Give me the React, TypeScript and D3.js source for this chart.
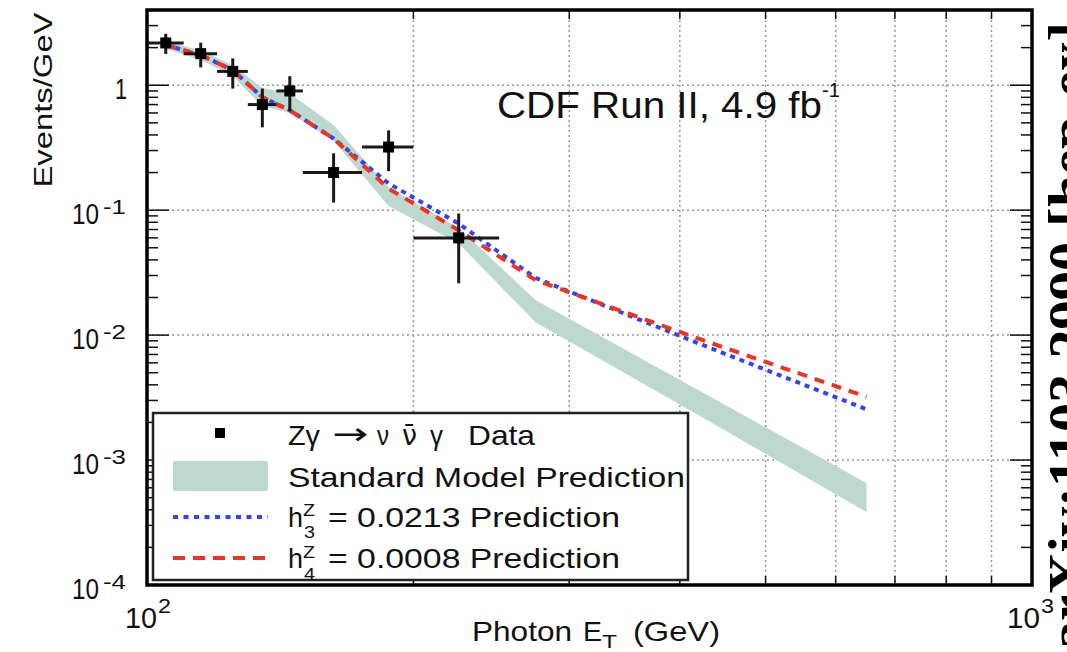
import React from 'react';
import * as d3 from 'd3';

// measured Z gamma -> nu nubar gamma events, per photon ET bin
const binLow = [100, 110, 120, 130, 140, 150, 175, 200];
const binHigh = [110, 120, 130, 140, 150, 175, 200, 250];
const binCenter = [105, 115, 125, 135, 145, 162.5, 187.5, 225];
const eventsPerGeV = [2.18, 1.79, 1.29, 0.7, 0.9, 0.2, 0.32, 0.06];
const eventsErr = [0.4, 0.4, 0.35, 0.24, 0.28, 0.085, 0.115, 0.034];

// predictions (band + two anomalous coupling curves)
const predEt = [105, 115, 125, 135, 145, 162.5, 187.5, 225, 275, 425, 650];
const smLow = [1.95, 1.6, 1.18, 0.68, 0.6, 0.36, 0.108, 0.054, 0.0126, 0.00218, 0.000384];
const smHigh = [2.25, 1.9, 1.45, 0.95, 0.86, 0.48, 0.152, 0.072, 0.019, 0.00345, 0.000655];
const h3Pred = [2.1, 1.74, 1.32, 0.8, 0.63, 0.374, 0.164, 0.078, 0.0286, 0.0083, 0.00255];
const h4Pred = [2.1, 1.74, 1.32, 0.8, 0.63, 0.374, 0.149, 0.069, 0.0275, 0.0091, 0.00321];

// axes
const gridEt = [200, 300, 400, 500, 600, 700, 800, 900];
const yDecades = [1e-4, 1e-3, 1e-2, 1e-1, 1];
const yTickExp = ['-4', '-3', '-2', '-1', ''];

const W = 1067;
const H = 652;
const L = 147, R = 1032, TOP = 10, BOT = 585;

const BAND = '#bcd8cf';
const BLUE = '#3344ee';
const RED = '#ee3322';
const INK = '#111';

const x = d3.scaleLog().domain([100, 1000]).range([L, R]);
const y = d3.scaleLog().domain([1e-4, 4]).range([BOT, TOP]);

// minor ticks 2..9 in every decade that fits
const minorY: number[] = [];
yDecades.forEach(d => {
  for (let k = 2; k <= 9; k++) if (k * d < 4) minorY.push(k * d);
});

const T = ({ x, y, size, len, anchor = 'start', children, ...rest }: any) => (
  <text x={x} y={y} fontSize={size} textAnchor={anchor}
    textLength={len} lengthAdjust="spacingAndGlyphs" fill={INK} {...rest}>
    {children}
  </text>
);

export default function App() {
  const band = d3.area<number>()
    .x(d => x(d))
    .y0((_, i) => y(smLow[i]))
    .y1((_, i) => y(smHigh[i]));

  const curve = (vals: number[]) => d3.line<number>()
    .x(d => x(d))
    .y((_, i) => y(vals[i]))(predEt) || '';

  return (
    <svg width={W} height={H}
      style={{ position: 'absolute', left: 0, top: 0, display: 'block', background: '#fff' }}
      fontFamily="'Liberation Sans', Arial, Helvetica, sans-serif">
      {/* grid */}
      <g stroke="#999" strokeWidth={1.5} strokeDasharray="2 3">
        {gridEt.map(v => <line key={v} x1={x(v)} x2={x(v)} y1={TOP} y2={BOT} />)}
        {yDecades.slice(1).map(v => <line key={v} x1={L} x2={R} y1={y(v)} y2={y(v)} />)}
      </g>

      {/* SM band */}
      <path d={band(predEt) || ''} fill={BAND} />

      {/* h3, h4 predictions */}
      <path d={curve(h3Pred)} fill="none" stroke={BLUE} strokeWidth={4} strokeDasharray="5 5" />
      <path d={curve(h4Pred)} fill="none" stroke={RED} strokeWidth={4} strokeDasharray="10 8" />

      {/* data */}
      <g stroke="#1a1a1a" strokeWidth={3}>
        {binCenter.map((c, i) => (
          <g key={c}>
            <line x1={x(binLow[i])} x2={x(binHigh[i])} y1={y(eventsPerGeV[i])} y2={y(eventsPerGeV[i])} />
            <line x1={x(c)} x2={x(c)} y1={y(eventsPerGeV[i] - eventsErr[i])} y2={y(eventsPerGeV[i] + eventsErr[i])} />
          </g>
        ))}
      </g>
      {binCenter.map((c, i) => (
        <rect key={c} x={x(c) - 5.5} y={y(eventsPerGeV[i]) - 5.5} width={11} height={11} fill="#000" />
      ))}

      {/* ticks */}
      <g stroke={INK} strokeWidth={1.5}>
        {gridEt.map(v => (
          <g key={v}>
            <line x1={x(v)} x2={x(v)} y1={BOT} y2={BOT - 9} />
            <line x1={x(v)} x2={x(v)} y1={TOP} y2={TOP + 9} />
          </g>
        ))}
        {yDecades.map(v => (
          <g key={v}>
            <line x1={L} x2={L + 22} y1={y(v)} y2={y(v)} />
            <line x1={R} x2={R - 22} y1={y(v)} y2={y(v)} />
          </g>
        ))}
        {minorY.map(v => (
          <g key={v}>
            <line x1={L} x2={L + 11} y1={y(v)} y2={y(v)} />
            <line x1={R} x2={R - 11} y1={y(v)} y2={y(v)} />
          </g>
        ))}
      </g>

      {/* frame */}
      <rect x={L} y={TOP} width={R - L} height={BOT - TOP} fill="none" stroke="#000" strokeWidth={3.5} />

      {/* y tick labels */}
      {yDecades.map((v, i) => yTickExp[i] === '' ? (
        <T key={v} x={127} y={y(v) + 14} size={29} len={12} anchor="end">1</T>
      ) : (
        <g key={v}>
          <T x={99} y={y(v) + 14} size={29} len={27} anchor="end">10</T>
          <T x={103} y={y(v) + 4} size={20} len={23}>{yTickExp[i]}</T>
        </g>
      ))}

      {/* x tick labels */}
      <T x={x(100) - 22} y={628} size={29} len={32}>10</T>
      <T x={x(100) + 11} y={613} size={20} len={13}>2</T>
      <T x={x(1000) - 25} y={628} size={29} len={33}>10</T>
      <T x={x(1000) + 9} y={613} size={20} len={13}>3</T>

      {/* axis titles */}
      <T x={0} y={0} size={26} len={175} anchor="middle" transform="translate(52,100) rotate(-90)">Events/GeV</T>
      <T x={472} y={641} size={28} len={100}>Photon</T>
      <T x={583} y={641} size={28} len={19}>E</T>
      <T x={602} y={648} size={18} len={15}>T</T>
      <T x={633} y={641} size={28} len={87}>(GeV)</T>

      {/* experiment label */}
      <T x={497} y={118} size={36} len={325}>CDF Run II, 4.9 fb</T>
      <T x={822} y={97} size={20} len={18}>-1</T>

      {/* legend */}
      <rect x={153} y={413} width={535} height={167} fill="#fff" stroke="#222" strokeWidth={2.5} />
      <rect x={215} y={428} width={10} height={10} fill="#000" />
      <rect x={173} y={461} width={95} height={30} rx={2} fill={BAND} />
      <line x1={173} x2={268} y1={517} y2={517} stroke={BLUE} strokeWidth={4} strokeDasharray="5 5.5" />
      <line x1={173} x2={268} y1={558} y2={558} stroke={RED} strokeWidth={4} strokeDasharray="12 8" />

      <T x={288} y={445} size={28} len={32}>Zγ</T>
      <T x={332} y={444} size={30} len={36} fontFamily="'DejaVu Sans', sans-serif">→</T>
      <T x={377} y={445} size={28} len={12}>ν</T>
      <T x={402} y={445} size={28} len={15} fontFamily="'DejaVu Sans', sans-serif">ν̄</T>
      <T x={430} y={445} size={28} len={13}>γ</T>
      <T x={468} y={445} size={28} len={67}>Data</T>

      <T x={288} y={487} size={28} len={397}>Standard Model Prediction</T>

      <T x={288} y={527} size={28} len={15}>h</T>
      <T x={303} y={516} size={17} len={12}>Z</T>
      <T x={304} y={538} size={17} len={11}>3</T>
      <T x={328} y={527} size={28} len={292}>= 0.0213 Prediction</T>

      <T x={288} y={568} size={28} len={15}>h</T>
      <T x={303} y={558} size={17} len={12}>Z</T>
      <T x={304} y={580} size={17} len={11}>4</T>
      <T x={328} y={568} size={28} len={292}>= 0.0008 Prediction</T>

      {/* arXiv stamp, clipped by the page edge */}
      <text x={0} y={0} transform="translate(1088,650) rotate(-90)" fontFamily="'Liberation Serif', 'Times New Roman', serif"
        fontWeight="bold" fontSize={58} textLength={628} lengthAdjust="spacingAndGlyphs" fill="#000">
        arXiv:1103.2990 [hep-ex]
      </text>
    </svg>
  );
}
